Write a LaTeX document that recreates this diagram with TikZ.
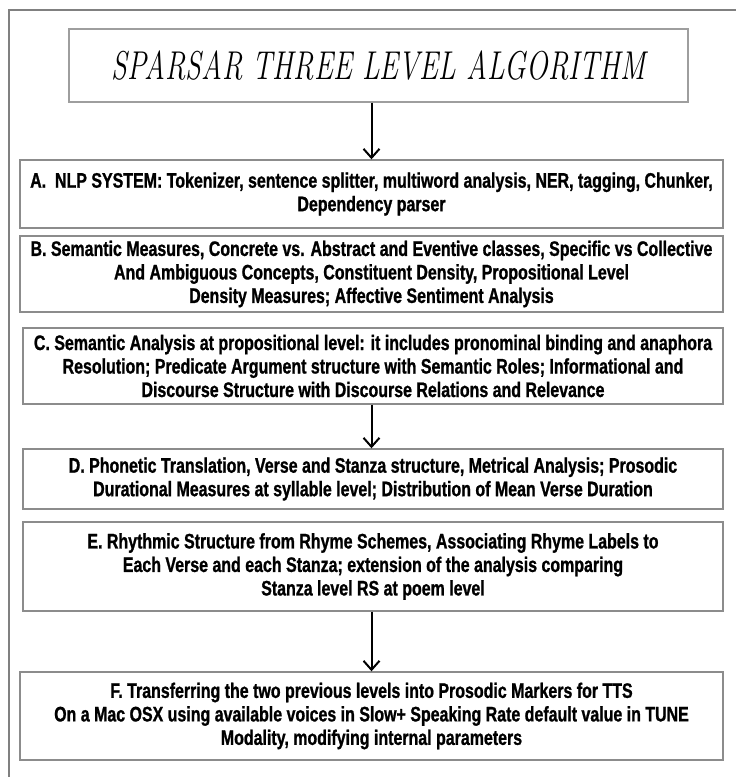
\documentclass[tikz,border=0pt]{standalone}
\usepackage{fontspec}
\usetikzlibrary{arrows.meta}
\newfontfamily\boxfont{Liberation Sans}[FakeStretch=0.76,BoldFeatures={FakeBold=1.0}]
\tikzset{
  stagebox/.style={draw=black!45, line width=1.4pt, inner sep=0pt, align=center,
    font=\boxfont\bfseries\fontsize{21}{23.5}\selectfont},
  titlebox/.style={draw=black!38, line width=1.4pt, inner sep=0pt, align=center,
    font=\itshape\fontsize{35}{38}\selectfont},
  flow/.style={draw=black, line width=2pt, -{Straight Barb[length=9pt,width=16pt,line width=2pt]}},
  frame/.style={draw=black!50, line width=1.2pt}
}
\begin{document}
\begin{tikzpicture}[x=1pt,y=-1pt]
\useasboundingbox (0,0) rectangle (736,777);
\draw[frame] (9,777) -- (9,10) -- (736,10);
\node[titlebox, minimum width=619pt, minimum height=73pt] (title) at (378.5,65.5) {\scalebox{0.82}[1.15]{SPARSAR THREE LEVEL ALGORITHM}};
\node[stagebox, minimum width=703pt, minimum height=68pt] (a) at (371.5,194) {A.\ \ NLP SYSTEM: Tokenizer, sentence splitter, multiword analysis, NER, tagging, Chunker,\\ Dependency parser};
\node[stagebox, minimum width=703pt, minimum height=76pt] (b) at (371.5,274) {B. Semantic Measures, Concrete vs. Abstract and Eventive classes, Specific vs Collective\\ And Ambiguous Concepts, Constituent Density, Propositional Level\\ Density Measures; Affective Sentiment Analysis};
\node[stagebox, minimum width=700pt, minimum height=76pt] (c) at (373,366) {C. Semantic Analysis at propositional level: it includes pronominal binding and anaphora\\ Resolution; Predicate Argument structure with Semantic Roles; Informational and\\ Discourse Structure with Discourse Relations and Relevance};
\node[stagebox, minimum width=700pt, minimum height=60pt] (d) at (373,479) {D. Phonetic Translation, Verse and Stanza structure, Metrical Analysis; Prosodic\\ Durational Measures at syllable level; Distribution of Mean Verse Duration};
\node[stagebox, minimum width=700pt, minimum height=89pt] (e) at (373,566.5) {E. Rhythmic Structure from Rhyme Schemes, Associating Rhyme Labels to\\ Each Verse and each Stanza; extension of the analysis comparing\\ Stanza level RS at poem level};
\node[stagebox, minimum width=703pt, minimum height=88pt] (f) at (371.5,716) {F. Transferring the two previous levels into Prosodic Markers for TTS\\ On a Mac OSX using available voices in Slow+ Speaking Rate default value in TUNE\\ Modality, modifying internal parameters};
\draw[flow] (title.south -| a.north) -- (a.north);
\draw[flow] (c.south -| a.north) -- (d.north -| a.north);
\draw[flow] (e.south -| a.north) -- (f.north);
\end{tikzpicture}
\end{document}
